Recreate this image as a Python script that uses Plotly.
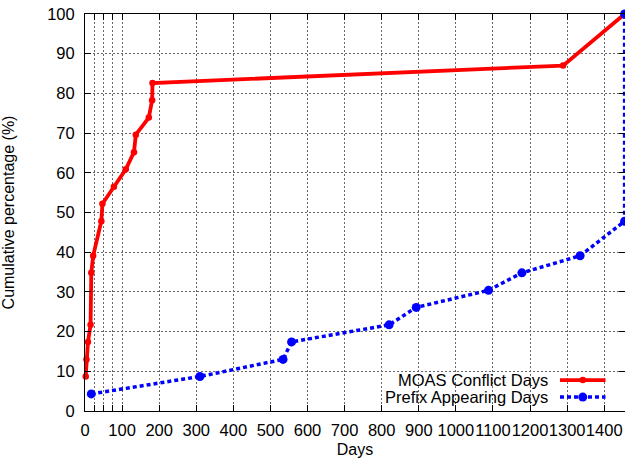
import plotly.graph_objects as go

# ---- data ----
moas_days = [2, 4, 8, 15, 17, 22, 44, 47, 78, 110, 132, 137, 172, 181, 182, 1289, 1455]
moas_pct = [8.7, 13.0, 17.4, 21.7, 34.8, 39.1, 47.8, 52.2, 56.5, 60.9, 65.2, 69.6, 73.9, 78.3, 82.6, 87.0, 100.0]

prefix_days = [17, 310, 534, 557, 820, 893, 1088, 1178, 1335, 1455, 1455]
prefix_pct = [4.3, 8.7, 13.0, 17.4, 21.7, 26.1, 30.4, 34.8, 39.1, 47.8, 100.0]

series_names = ["MOAS Conflict Days", "Prefix Appearing Days"]
x_tick_vals = list(range(0, 1401, 100))
x_minor_vals = [25, 50, 75]
y_tick_vals = list(range(0, 101, 10))

FONT = "Liberation Sans, Arial, Helvetica, sans-serif"
RED = "#ff0000"
BLUE = "#0000ff"
FS = 16.5

fig = go.Figure()
fig.add_trace(go.Scatter(
    x=moas_days, y=moas_pct, mode="lines+markers", name=series_names[0],
    line=dict(color=RED, width=3.8),
    marker=dict(symbol="circle", size=6.5, color=RED),
    cliponaxis=False, showlegend=False,
))
fig.add_trace(go.Scatter(
    x=prefix_days, y=prefix_pct, mode="lines+markers", name=series_names[1],
    line=dict(color=BLUE, width=3.5, dash="4px,3px"),
    marker=dict(symbol="circle", size=9, color=BLUE),
    cliponaxis=False, showlegend=False,
))

axis_common = dict(
    showline=True, linecolor="black", linewidth=1, mirror="ticks",
    ticks="inside", ticklen=6, tickcolor="black", tickwidth=1,
    showgrid=True, gridcolor="#666666", gridwidth=1, griddash="2px,2px",
    zeroline=False, automargin=False, tickangle=0,
    tickfont=dict(family=FONT, size=FS, color="black"),
)

fig.update_layout(
    width=625, height=460,
    margin=dict(l=85, r=0, t=14, b=49),
    paper_bgcolor="white", plot_bgcolor="white",
    font=dict(family=FONT, size=16, color="black"),
    xaxis=dict(
        range=[0, 1456], tickmode="array", tickvals=x_tick_vals,
        ticktext=[str(v) for v in x_tick_vals],
        ticklabelstandoff=4,
        title=dict(text="Days", font=dict(family=FONT, size=16), standoff=6),
        minor=dict(tickmode="array", tickvals=x_minor_vals, ticks="inside", ticklen=6,
                   tickcolor="black", showgrid=True, gridcolor="#666666",
                   griddash="2px,2px", gridwidth=1),
        **axis_common,
    ),
    yaxis=dict(
        range=[0, 100], tickmode="array", tickvals=y_tick_vals,
        ticklabelstandoff=6,
        title=dict(text="Cumulative percentage (%)", font=dict(family=FONT, size=16), standoff=31),
        **axis_common,
    ),
    showlegend=False,
)

# ---- gnuplot-style key: right-justified text, sample to the right ----
fig.add_shape(type="rect", xref="paper", yref="paper", x0=0.531, x1=0.999,
              y0=0.014, y1=0.098, fillcolor="white", line=dict(width=0), layer="between")
key_rows = [(0.078, RED, "solid", 6.5, 3.8), (0.035, BLUE, "4px,3px", 9, 3.5)]
for name, (yk, col, dash, msize, lw) in zip(series_names, key_rows):
    fig.add_annotation(xref="paper", yref="paper", x=0.861, y=yk, text=name,
                       showarrow=False, xanchor="right", yanchor="middle",
                       font=dict(family=FONT, size=FS, color="black"))
    fig.add_shape(type="line", xref="paper", yref="paper", x0=0.8796, x1=0.9639,
                  y0=yk, y1=yk, line=dict(color=col, width=lw, dash=dash))
    fig.add_shape(type="circle", xref="paper", yref="paper", xsizemode="pixel", ysizemode="pixel",
                  xanchor=0.9218, yanchor=yk, x0=-msize / 2, x1=msize / 2,
                  y0=-msize / 2, y1=msize / 2, fillcolor=col, line=dict(width=0))

fig.write_html("out.html",
               config={"displayModeBar": False},
               post_script="document.body.style.margin='0';document.body.style.padding='0';")
